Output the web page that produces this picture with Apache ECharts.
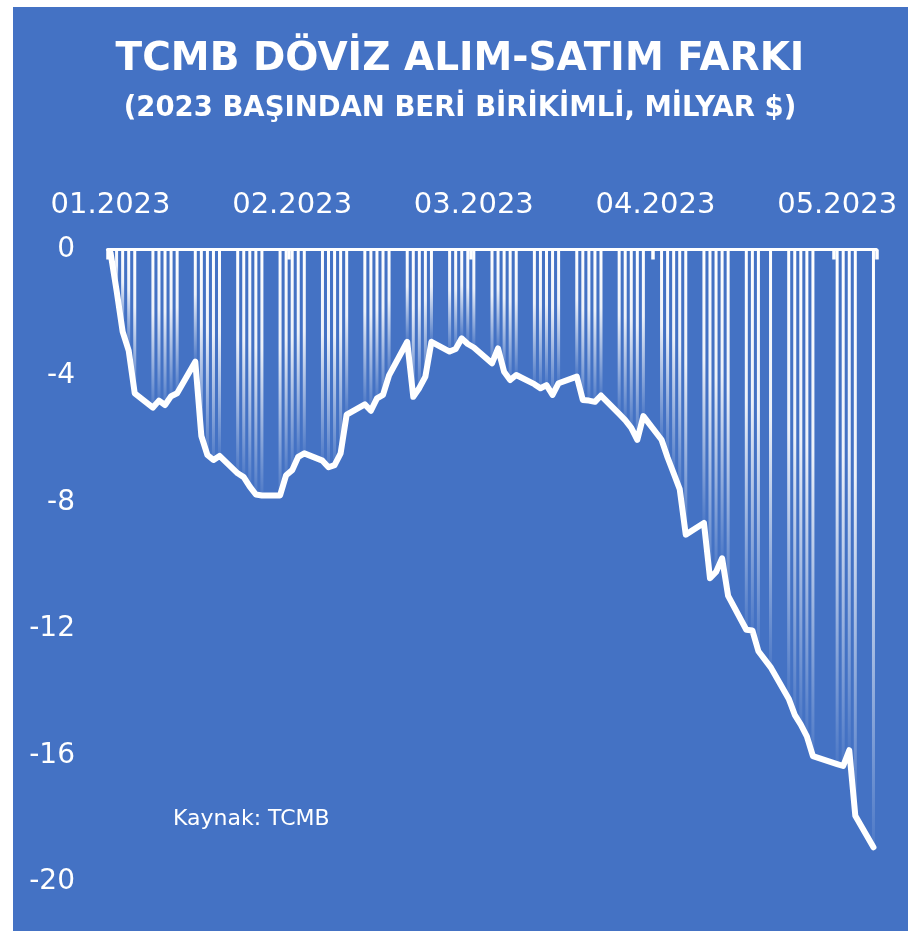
<!DOCTYPE html>
<html>
<head>
<meta charset="utf-8">
<script src="https://cdn.jsdelivr.net/npm/echarts@6/dist/echarts.min.js"></script>
<style>
  html, body { margin: 0; padding: 0; background: #ffffff; }
  #chart { width: 920px; height: 939px; }
</style>
</head>
<body>
<div id="chart"></div>
<script>
// Business days with data (date strings) and cumulative values (billion $)
const dates = [
  '2023-01-02','2023-01-03','2023-01-04','2023-01-05','2023-01-06',
  '2023-01-09','2023-01-10','2023-01-11','2023-01-12','2023-01-13',
  '2023-01-16','2023-01-17','2023-01-18','2023-01-19','2023-01-20',
  '2023-01-23','2023-01-24','2023-01-25','2023-01-26','2023-01-27',
  '2023-01-30','2023-01-31','2023-02-01','2023-02-02','2023-02-03',
  '2023-02-06','2023-02-07','2023-02-08','2023-02-09','2023-02-10',
  '2023-02-13','2023-02-14','2023-02-15','2023-02-16','2023-02-17',
  '2023-02-20','2023-02-21','2023-02-22','2023-02-23','2023-02-24',
  '2023-02-27','2023-02-28','2023-03-01','2023-03-02','2023-03-03',
  '2023-03-06','2023-03-07','2023-03-08','2023-03-09','2023-03-10',
  '2023-03-13','2023-03-14','2023-03-15','2023-03-16','2023-03-17',
  '2023-03-20','2023-03-21','2023-03-22','2023-03-23','2023-03-24',
  '2023-03-27','2023-03-28','2023-03-29','2023-03-30','2023-03-31',
  '2023-04-03','2023-04-04','2023-04-05','2023-04-06','2023-04-07',
  '2023-04-10','2023-04-11','2023-04-12','2023-04-13','2023-04-14',
  '2023-04-17','2023-04-18','2023-04-19','2023-04-21',
  '2023-04-24','2023-04-25','2023-04-26','2023-04-27','2023-04-28',
  '2023-05-02','2023-05-03','2023-05-04','2023-05-05',
  '2023-05-08'
];
const values = [
  -0.10, -1.30, -2.60, -3.20, -4.55,
  -5.00, -4.78, -4.92, -4.64, -4.55,
  -3.55, -5.90, -6.50, -6.66, -6.53,
  -7.08, -7.20, -7.50, -7.75, -7.78,
  -7.78, -7.14, -6.98, -6.56, -6.45,
  -6.68, -6.89, -6.82, -6.45, -5.22,
  -4.90, -5.10, -4.71, -4.60, -3.98,
  -2.92, -4.66, -4.38, -4.02, -2.92,
  -3.23, -3.15, -2.81, -2.99, -3.10,
  -3.60, -3.13, -3.87, -4.13, -3.97,
  -4.26, -4.39, -4.29, -4.60, -4.23,
  -4.02, -4.76, -4.78, -4.82, -4.62,
  -5.20, -5.40, -5.64, -6.02, -5.27,
  -6.02, -6.58, -7.08, -7.58, -9.02,
  -8.65, -10.40, -10.20, -9.77, -10.96,
  -12.03, -12.05, -12.71, -13.21,
  -14.21, -14.72, -15.03, -15.40, -16.03,
  -16.28, -16.34, -15.84, -17.91,
  -18.91
];
const xTickLabels = ['01.2023', '02.2023', '03.2023', '04.2023', '05.2023'];
const yTicks = [0, -4, -8, -12, -16, -20];
const titleText = 'TCMB DÖVİZ ALIM-SATIM FARKI';
const subtitleText = '(2023 BAŞINDAN BERİ BİRİKİMLİ, MİLYAR $)';
const sourceText = 'Kaynak: TCMB';

// Build full calendar-day category list between first and last date
function fmt(d) {
  const m = String(d.getUTCMonth() + 1).padStart(2, '0');
  const dd = String(d.getUTCDate()).padStart(2, '0');
  return d.getUTCFullYear() + '-' + m + '-' + dd;
}
const categories = [];
{
  const start = new Date(dates[0] + 'T00:00:00Z');
  const end = new Date(dates[dates.length - 1] + 'T00:00:00Z');
  for (let d = new Date(start); d <= end; d.setUTCDate(d.getUTCDate() + 1)) {
    categories.push(fmt(d));
  }
}
const valueByDate = {};
dates.forEach((d, i) => { valueByDate[d] = values[i]; });
const seriesData = categories.map(c => (c in valueByDate ? valueByDate[c] : null));

const FONT = 'DejaVu Sans';
const LABEL_STEP = 30;

const chart = echarts.init(document.getElementById('chart'), null, { renderer: 'canvas' });
chart.setOption({
  backgroundColor: '#ffffff',
  animation: false,
  graphic: [
    {
      type: 'rect', z: -100, silent: true,
      shape: { x: 13, y: 7, width: 895, height: 924 },
      style: { fill: '#4472C4' }
    },
    {
      type: 'text', z: 100, left: 173, top: 808,
      style: { text: sourceText, fill: '#ffffff', font: '22px "' + FONT + '"' }
    }
  ],
  title: [
    {
      text: titleText, left: 'center', top: 35,
      textStyle: { color: '#ffffff', fontFamily: FONT, fontWeight: 'bold', fontSize: 39 }
    },
    {
      text: subtitleText, left: 'center', top: 90,
      textStyle: { color: '#ffffff', fontFamily: FONT, fontWeight: 'bold', fontSize: 27.5 }
    }
  ],
  grid: { left: 107.5, right: 43.5, top: 249.5, bottom: 57.3, containLabel: false },
  xAxis: {
    type: 'category',
    position: 'top',
    data: categories,
    boundaryGap: true,
    axisLine: { show: true, onZero: false, lineStyle: { color: '#ffffff', width: 3 } },
    axisTick: { show: true, inside: true, length: 10, interval: LABEL_STEP - 1,
      lineStyle: { color: '#ffffff', width: 3.5 } },
    axisLabel: {
      show: true, interval: LABEL_STEP - 1, margin: 30,
      color: '#ffffff', fontFamily: FONT, fontSize: 29, lineHeight: 29,
      formatter: function (val, idx) { return xTickLabels[Math.round(idx / LABEL_STEP)] || ''; }
    },
    splitLine: { show: false }
  },
  yAxis: {
    type: 'value',
    min: yTicks[yTicks.length - 1], max: yTicks[0], interval: 4,
    axisLine: { show: false },
    axisTick: { show: false },
    splitLine: { show: false },
    axisLabel: { color: '#ffffff', fontFamily: FONT, fontSize: 28, margin: 32.5 }
  },
  series: [
    {
      type: 'bar',
      data: seriesData,
      barWidth: 3,
      itemStyle: {
        color: new echarts.graphic.LinearGradient(0, 0, 0, 1, [
          { offset: 0, color: 'rgba(255,255,255,1)' },
          { offset: 0.4, color: 'rgba(255,255,255,0.9)' },
          { offset: 1, color: 'rgba(255,255,255,0.05)' }
        ])
      },
      silent: true
    },
    {
      type: 'line',
      data: seriesData,
      connectNulls: true,
      showSymbol: false,
      symbol: 'none',
      lineStyle: { color: '#ffffff', width: 6, join: 'round', cap: 'round' },
      z: 5,
      silent: true
    }
  ]
});
</script>
</body>
</html>
